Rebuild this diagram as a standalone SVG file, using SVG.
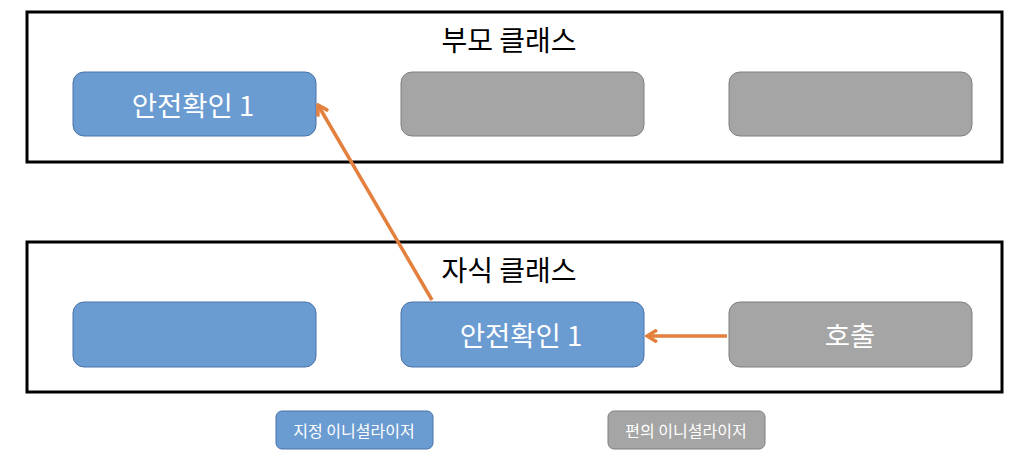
<svg xmlns="http://www.w3.org/2000/svg" width="1030" height="468" viewBox="0 0 1030 468">
<style>
.frame{fill:#fff;stroke:#000;stroke-width:3}
.blue{fill:#6A9BD1;stroke:#4A72A8;stroke-width:1}
.gray{fill:#A5A5A5;stroke:#7F7F7F;stroke-width:1}
.t{font-family:"Noto Sans CJK KR","Liberation Sans",sans-serif;fill:#fff;text-anchor:middle;dominant-baseline:central}
.title{font-family:"Noto Sans CJK KR","Liberation Sans",sans-serif;fill:#000;text-anchor:middle;dominant-baseline:central;font-size:28px}
.conn{stroke:#E3803E;stroke-width:3.5;fill:none}
</style>
<defs>
<marker id="ah" viewBox="0 0 14 14" refX="12" refY="7" markerWidth="14" markerHeight="14" markerUnits="userSpaceOnUse" orient="auto">
<path d="M2,1 L12,7 L2,13" fill="none" stroke="#E3803E" stroke-width="3.5"/>
</marker>
</defs>
<g id="parent">
<rect class="frame" x="27" y="12" width="975" height="150"/>
<text class="title" x="509" y="39">부모 클래스</text>
</g>
<g id="child">
<rect class="frame" x="27" y="242" width="975" height="150"/>
<text class="title" x="509" y="269">자식 클래스</text>
</g>
<g id="p1"><rect class="blue" x="73" y="72" width="243" height="64" rx="11"/><text class="t" x="193" y="104" font-size="27.5">안전확인 1</text></g>
<g id="p2"><rect class="gray" x="401" y="72" width="243" height="64" rx="11"/></g>
<g id="p3"><rect class="gray" x="729" y="72" width="243" height="64" rx="11"/></g>
<g id="c1"><rect class="blue" x="73" y="302" width="243" height="65" rx="11"/></g>
<g id="c2"><rect class="blue" x="401" y="302" width="243" height="65" rx="11"/><text class="t" x="521" y="334" font-size="27.5">안전확인 1</text></g>
<g id="c3"><rect class="gray" x="729" y="302" width="243" height="65" rx="11"/><text class="t" x="850" y="334" font-size="27.5">호출</text></g>
<g id="legend1"><rect class="blue" x="276" y="411" width="157" height="38" rx="6"/><text class="t" x="354" y="430" font-size="16">지정 이니셜라이저</text></g>
<g id="legend2"><rect class="gray" x="608" y="411" width="157" height="38" rx="6"/><text class="t" x="686" y="430" font-size="16">편의 이니셜라이저</text></g>
<g id="connectors">
<line class="conn" x1="432" y1="300" x2="318" y2="105" marker-end="url(#ah)"/>
<line class="conn" x1="727" y1="336" x2="647" y2="336" marker-end="url(#ah)"/>
</g>
</svg>
